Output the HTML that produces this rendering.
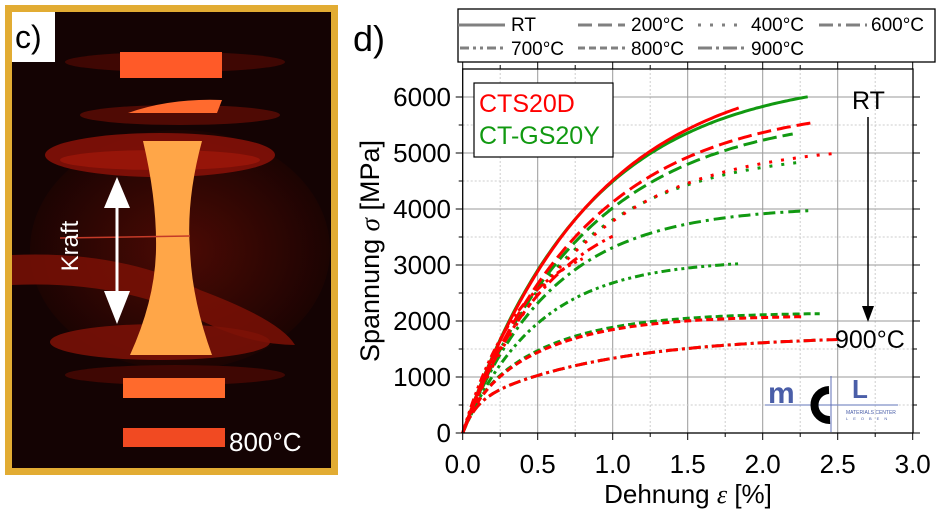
<!DOCTYPE html>
<html><head><meta charset="utf-8"><style>
body{margin:0;width:945px;height:518px;background:#fff;overflow:hidden}
svg{display:block;font-family:"Liberation Sans",Arial,sans-serif}
</style></head><body>
<svg id="s" width="945" height="518" viewBox="0 0 945 518">
<defs>
<radialGradient id="glow" cx="50%" cy="50%" r="60%"><stop offset="0" stop-color="#5a0c04"/><stop offset="1" stop-color="#120202"/></radialGradient>
</defs>
<rect x="5" y="5" width="333" height="470" fill="#e2ac33"/>
<rect x="12" y="12" width="319" height="456" fill="#140303"/>
<ellipse cx="180" cy="250" rx="150" ry="120" fill="url(#glow)" opacity="0.8"/>
<ellipse cx="160" cy="155" rx="115" ry="22" fill="#8a1208" opacity="0.85"/>
<ellipse cx="160" cy="160" rx="100" ry="10" fill="#a3180a" opacity="0.7"/>
<path d="M12 255 Q120 250 200 290 Q280 320 295 345 Q250 345 200 320 Q120 280 12 285Z" fill="#7a1006" opacity="0.85"/>
<ellipse cx="160" cy="342" rx="110" ry="18" fill="#7e1207" opacity="0.85"/>
<ellipse cx="180" cy="115" rx="100" ry="10" fill="#5e0c05" opacity="0.8"/>
<ellipse cx="175" cy="62" rx="110" ry="10" fill="#4a0904" opacity="0.8"/>
<ellipse cx="175" cy="375" rx="110" ry="10" fill="#4a0904" opacity="0.8"/>
<rect x="120" y="52" width="102" height="26" fill="#ff5a28"/>
<path d="M128 113 Q170 98 222 100 L217 113Z" fill="#ff6a2e"/>
<rect x="123" y="378" width="102" height="20" fill="#ff6a2c"/>
<rect x="123" y="428" width="102" height="19" fill="#f14a22"/>
<path d="M143 141 L202 141 Q186 200 190 250 Q192 300 212 355 L130 355 Q155 300 156 250 Q157 200 143 141Z" fill="#ffa648"/>
<line x1="60" y1="238" x2="190" y2="236" stroke="#c43a28" stroke-width="1.5"/>
<line x1="117" y1="195" x2="117" y2="305" stroke="#fff" stroke-width="3"/>
<polygon points="117,177 104,208 130,208" fill="#fff"/>
<polygon points="117,324 104,291 130,291" fill="#fff"/>
<text x="78" y="246" fill="#fff" font-size="24" transform="rotate(-90 78 246)" text-anchor="middle">Kraft</text>
<text x="229" y="451" fill="#fff" font-size="26">800°C</text>
<rect x="12" y="12" width="43" height="50" fill="#fff"/>
<text x="15" y="48" fill="#000" font-size="32">c)</text>
<text x="353" y="51" font-size="36">d)</text>
<rect x="458" y="9" width="477" height="53" fill="#fff" stroke="#000" stroke-width="1.3"/>
<g stroke="#808080" stroke-width="3" fill="none">
<line x1="458" y1="25" x2="505" y2="25"/>
<line x1="578" y1="25" x2="625" y2="25" stroke-dasharray="14 6"/>
<line x1="698" y1="25" x2="746" y2="25" stroke-dasharray="3 9"/>
<line x1="819" y1="25" x2="867" y2="25" stroke-dasharray="14 5 3 5"/>
<line x1="460" y1="48" x2="506" y2="48" stroke-dasharray="9 4 3 4 3 4"/>
<line x1="578" y1="48" x2="625" y2="48" stroke-dasharray="7 4"/>
<line x1="698" y1="48" x2="746" y2="48" stroke-dasharray="14 4 3 4"/>
</g>
<g font-size="19">
<text x="511" y="31">RT</text><text x="631" y="31">200°C</text><text x="751" y="31">400°C</text><text x="871" y="31">600°C</text>
<text x="511" y="55">700°C</text><text x="631" y="55">800°C</text><text x="751" y="55">900°C</text>
</g>
<g id="grid"></g>
<g id="curves"></g>
<rect x="462.7" y="69" width="450.3" height="364" fill="none" stroke="#000" stroke-width="1.3"/>
<g id="ticks"></g>
<rect x="474" y="83" width="139" height="74" fill="#fff" stroke="#000" stroke-width="1.2"/>
<text x="479" y="112" font-size="25" fill="#ff0000">CTS20D</text>
<text x="479" y="144" font-size="25" fill="#119911">CT-GS20Y</text>
<text x="852" y="109" font-size="25">RT</text>
<line x1="868" y1="117" x2="868" y2="308" stroke="#000" stroke-width="1.5"/>
<polygon points="868,322 862,306 874,306" fill="#000"/>
<text x="835" y="348" font-size="25">900°C</text>
<g>
<text x="768" y="403" font-size="30" font-weight="bold" fill="#4a5ea8">m</text>
<text x="852" y="398" font-size="26" font-weight="bold" fill="#4a5ea8">L</text>
<line x1="765" y1="405" x2="898" y2="405" stroke="#8090c8" stroke-width="1.2"/>
<path d="M829 390 A15 15 0 1 0 830 420" stroke="#000" stroke-width="8" fill="none"/>
<line x1="831" y1="376" x2="831" y2="432" stroke="#6070b8" stroke-width="1"/>
<text x="846" y="414" font-size="5" fill="#4a5ea8">MATERIALS CENTER</text>
<text x="846" y="420" font-size="4" fill="#4a5ea8" letter-spacing="5">LEOBEN</text>
</g>
<g font-size="26" id="labels"></g>
<text x="688" y="503" font-size="26" text-anchor="middle">Dehnung <tspan font-family="Liberation Serif" font-style="italic">ε</tspan> [%]</text>
<text x="379" y="251" font-size="27" text-anchor="middle" transform="rotate(-90 379 251)">Spannung <tspan font-family="Liberation Serif" font-style="italic">σ</tspan> [MPa]</text>
</svg>
<script>
var NS="http://www.w3.org/2000/svg";
function X(e){return 462.7+150*e}function Y(s){return 433-s*0.056}
function el(p,t,a){var n=document.createElementNS(NS,t);for(var k in a)n.setAttribute(k,a[k]);document.getElementById(p).appendChild(n);return n}
for(var i=1;i<12;i++){var x=X(i*0.25);el("grid","line",{x1:x,x2:x,y1:69,y2:433,stroke:i%2?"#ccc":"#999","stroke-width":1,"stroke-dasharray":i%2?"2 2":""});}
for(var i=1;i<13;i++){var y=Y(i*500);el("grid","line",{x1:462.7,x2:913,y1:y,y2:y,stroke:i%2?"#ccc":"#999","stroke-width":1,"stroke-dasharray":i%2?"2 2":""});}
for(var i=0;i<=12;i++){var x=X(i*0.25),L=i%2?4:7;el("ticks","line",{x1:x,x2:x,y1:433,y2:433+L,stroke:"#000"});el("ticks","line",{x1:x,x2:x,y1:69,y2:69-L,stroke:"#000"});}
for(var i=0;i<=12;i++){var y=Y(i*500),L=i%2?4:7;el("ticks","line",{x1:462.7-L,x2:462.7,y1:y,y2:y,stroke:"#000"});el("ticks","line",{x1:913,x2:913+L,y1:y,y2:y,stroke:"#000"});}
for(var i=0;i<=6;i++){var t=el("labels","text",{x:451,y:Y(i*1000)+9,"text-anchor":"end"});t.textContent=i*1000;}
for(var i=0;i<=6;i++){var t=el("labels","text",{x:X(i*0.5),y:473,"text-anchor":"middle"});t.textContent=(i*0.5).toFixed(1);}
var D={rt:"",d200:"14 6",d400:"3 9",d600:"12 5 3 5",d700:"9 4 3 4 3 4",d800:"7 4",d900:"12 4 3 4"};
function C(A,k1,S,k2,end,dash,col){var d="";for(var e=0;e<=end+1e-9;e+=0.02){var s=A*(1-Math.exp(-k1*e))+S*(1-Math.exp(-k2*e));d+=(e?"L":"M")+X(e).toFixed(1)+" "+Y(s).toFixed(1);}
el("curves","path",{d:d,fill:"none",stroke:col,"stroke-width":3,"stroke-dasharray":dash});}
var G="#119911",R="#ff0000";
C(0,1,6400,1.21,2.3,D.rt,G);C(0,1,5750,1.2,2.2,D.d200,G);C(0,1,5050,1.4,2.29,D.d400,G);C(0,1,4050,1.7,2.33,D.d600,G);C(0,1,3100,2.0,1.87,D.d700,G);C(400,10,1750,1.9,2.38,D.d800,G);C(500,12,1250,1.1,2.45,D.d900,G);
C(0,1,6600,1.15,1.85,D.rt,R);C(0,1,5900,1.2,2.33,D.d200,R);C(0,1,5200,1.3,2.49,D.d400,R);C(0,1,4300,1.7,1.0,D.d600,R);C(0,1,3600,2.5,0.8,D.d700,R);C(400,10,1700,1.9,2.29,D.d800,R);C(500,12,1250,1.1,2.5,D.d900,R);
</script>
</body></html>
